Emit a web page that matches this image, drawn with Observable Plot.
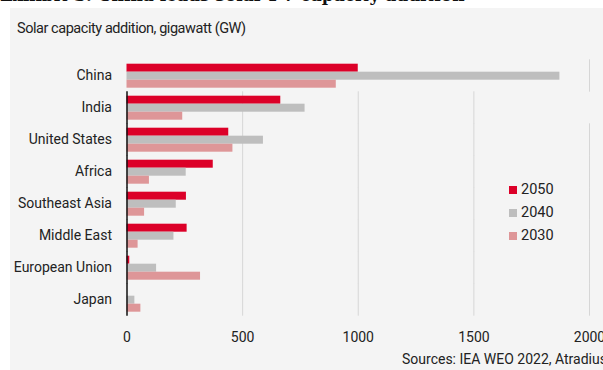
<!DOCTYPE html>
<html>
<head>
<meta charset="utf-8">
<script src="https://cdn.jsdelivr.net/npm/d3@7"></script>
<script src="https://cdn.jsdelivr.net/npm/@observablehq/plot@0.6"></script>
<style>
  html, body { margin: 0; padding: 0; background: #fff; }
  body { width: 603px; height: 370px; position: relative; overflow: hidden; font-family: Roboto, "Noto Sans", sans-serif; color: #222; }
  #head { position: absolute; left: 0; top: -15px; font: bold 17px "DejaVu Serif", "Liberation Serif", serif; white-space: nowrap; color: #111; }
  #panel { position: absolute; left: 10px; top: 8px; width: 600px; height: 370px; background: #f4f4f4; }
  #title { position: absolute; left: 17px; top: 20px; font-size: 14.5px; letter-spacing: -0.45px; white-space: nowrap; }
  #chart { position: absolute; left: 0; top: 0; }
  #legend { position: absolute; left: 509px; top: 181px; font-size: 14.5px; }
  #legend div { height: 23px; line-height: 17px; white-space: nowrap; }
  #legend span { display: inline-block; width: 8px; height: 8px; margin-right: 4px; vertical-align: 0px; }
  #source { position: absolute; left: 402px; top: 351px; font-size: 14px; white-space: nowrap; }
</style>
</head>
<body>
<div id="head">Exhibit 3: China leads solar PV capacity addition</div>
<div id="panel"></div>
<div id="title">Solar capacity addition, gigawatt (GW)</div>
<div id="chart"></div>
<div id="legend"></div>
<div id="source">Sources: IEA WEO 2022, Atradius</div>
<script>
const countries = ["China", "India", "United States", "Africa", "Southeast Asia", "Middle East", "European Union", "Japan"];
const years = ["2050", "2040", "2030"];
const v2050 = [1000, 665, 440, 373, 257, 260, 12, 0];
const v2040 = [1872, 770, 590, 256, 213, 203, 128, 34];
const v2030 = [905, 241, 458, 97, 76, 48, 318, 60];
const colors = ["#dc0028", "#bebebe", "#de9698"];
const xTicks = [0, 500, 1000, 1500, 2000];
const gridTicks = [500, 1000, 1500, 2000];

const series = {"2050": v2050, "2040": v2040, "2030": v2030};
const data = [];
countries.forEach((c, i) => years.forEach(y => data.push({country: c, year: y, value: series[y][i]})));

const chart = Plot.plot({
  width: 603,
  height: 350,
  marginLeft: 126.5,
  marginRight: 14,
  marginTop: 58.3,
  marginBottom: 33.3,
  style: {background: "transparent", fontSize: "14px", fontFamily: "Roboto, 'Noto Sans', sans-serif", color: "#222"},
  x: {domain: [0, 2000], ticks: xTicks, tickFormat: d3.format("d"), tickSize: 0, tickPadding: 20, label: null},
  y: {domain: years, padding: 0, axis: null},
  fy: {domain: countries, paddingInner: 0.226, paddingOuter: 0.124, axis: "left", tickSize: 0, tickPadding: 15, label: null},
  color: {domain: years, range: colors},
  facet: {data, y: "country"},
  marks: [
    Plot.ruleX(gridTicks, {stroke: "#d6d6d6", strokeWidth: 1, insetTop: -3.7, insetBottom: -3.7, facet: "exclude"}),
    Plot.barX(data, {x: "value", y: "year", fill: "year", insetTop: 0, insetBottom: 0}),
    Plot.ruleX([0], {stroke: "#111", strokeWidth: 1.5, insetTop: -3.7, insetBottom: -3.7, facet: "exclude"})
  ]
});
document.getElementById("chart").appendChild(chart);

const legend = document.getElementById("legend");
years.forEach((y, i) => {
  const row = document.createElement("div");
  const sw = document.createElement("span");
  sw.style.background = colors[i];
  row.appendChild(sw);
  row.appendChild(document.createTextNode(y));
  legend.appendChild(row);
});
</script>
</body>
</html>
